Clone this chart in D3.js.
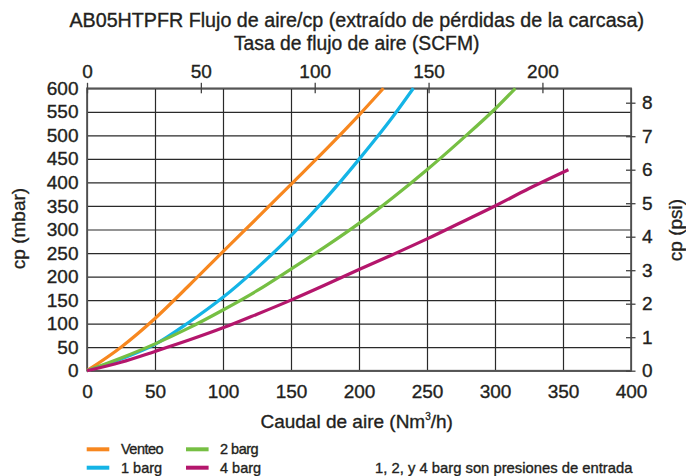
<!DOCTYPE html>
<html lang="es">
<head>
  <meta charset="UTF-8">
  <title>AB05HTPFR Flujo de aire/cp</title>
  <script src="https://d3js.org/d3.v7.min.js"></script>
  <style>
    body { margin: 0; background: #fff; }
    svg { font-family: "Liberation Sans", Arial, sans-serif; }
    svg text { fill: #231f20; stroke: #231f20; stroke-width: 0.35px; }
    .axis .domain { stroke: none; }
    .axis text { font-size: 19px; }
    .gridlines line { stroke: #2a2a2a; stroke-width: 1.2; }
    .gridlines .domain { stroke: none; }
  </style>
</head>
<body>
  <svg id="chart" width="686" height="476"></svg>

  <script>
    // flow in Nm3/h, pressure drop in mbar
    const ventFlow = [0, 25, 50, 75, 100, 125, 150, 175, 200, 218];
    const ventDp   = [0, 50, 111, 181, 253, 324, 396, 468, 543, 600];
    const bar1Flow = [0, 25, 50, 75, 100, 125, 150, 175, 200, 225, 240];
    const bar1Dp   = [0, 25, 56, 103, 156, 218, 287, 364, 449, 540, 600];
    const bar2Flow = [0, 25, 50, 75, 100, 125, 150, 175, 200, 225, 250, 275, 300, 315];
    const bar2Dp   = [0, 27, 57, 91, 129, 170, 216, 263, 313, 368, 427, 490, 556, 600];
    const bar4Flow = [0, 25, 50, 75, 100, 125, 150, 175, 200, 225, 250, 275, 300, 325, 354];
    const bar4Dp   = [0, 18, 41, 65, 91, 120, 150, 182, 215, 247, 280, 315, 350, 387, 427];

    const seriesNames  = ["Venteo", "1 barg", "2 barg", "4 barg"];
    const seriesColors = ["#f7871f", "#14b4e6", "#76bf43", "#b4166c"];

    const flowTicks = [0, 50, 100, 150, 200, 250, 300, 350, 400];
    const dpTicks   = [0, 50, 100, 150, 200, 250, 300, 350, 400, 450, 500, 550, 600];
    const scfmTicks = [0, 50, 100, 150, 200];
    const psiTicks  = [0, 1, 2, 3, 4, 5, 6, 7, 8];
    const scfmMax = 238.9;   // 400 Nm3/h on the top scale
    const psiMax = 8.43;     // 600 mbar on the right scale

    const svg = d3.select("#chart");
    const margins = { top: 88.3, right: 55, bottom: 105.3, left: 87 };
    const width = +svg.attr("width");
    const height = +svg.attr("height");

    const xScale = d3.scaleLinear().domain([0, 400]).range([margins.left, width - margins.right]);
    const yScale = d3.scaleLinear().domain([0, 600]).range([height - margins.bottom, margins.top]);
    const xTop = d3.scaleLinear().domain([0, scfmMax]).range(xScale.range());
    const yPsi = d3.scaleLinear().domain([0, psiMax]).range(yScale.range());

    const x0 = xScale(0), x1 = xScale(400), y0 = yScale(0), y1 = yScale(600);

    // titles
    svg.append("text")
      .attr("x", 356.7).attr("y", 20)
      .attr("text-anchor", "middle").attr("dominant-baseline", "central")
      .attr("font-size", "19.7px")
      .text("AB05HTPFR Flujo de aire/cp (extraído de pérdidas de la carcasa)");
    svg.append("text")
      .attr("x", 356.7).attr("y", 43)
      .attr("text-anchor", "middle").attr("dominant-baseline", "central")
      .attr("font-size", "19.3px")
      .text("Tasa de flujo de aire (SCFM)");

    // grid
    svg.append("g").attr("class", "gridlines")
      .attr("transform", `translate(0,${y0})`)
      .call(d3.axisBottom(xScale).tickValues(flowTicks).tickSize(-(y0 - y1)).tickFormat(""));
    svg.append("g").attr("class", "gridlines")
      .attr("transform", `translate(${x0},0)`)
      .call(d3.axisLeft(yScale).tickValues(dpTicks).tickSize(-(x1 - x0)).tickFormat(""));

    svg.append("rect")
      .attr("x", x0).attr("y", y1)
      .attr("width", x1 - x0).attr("height", y0 - y1)
      .attr("fill", "none").attr("stroke", "#555").attr("stroke-width", 1.7);

    // axes
    svg.append("g").attr("class", "axis")
      .attr("transform", `translate(${x0},0)`)
      .call(d3.axisLeft(yScale).tickValues(dpTicks).tickSize(0).tickPadding(8.5));

    svg.append("g").attr("class", "axis")
      .attr("transform", `translate(0,${y0})`)
      .call(d3.axisBottom(xScale).tickValues(flowTicks).tickSize(0).tickPadding(14));

    const topAxis = svg.append("g").attr("class", "axis")
      .attr("transform", `translate(0,${y1 + 5})`)
      .call(d3.axisTop(xTop).tickValues(scfmTicks).tickSize(10.5).tickPadding(5));
    topAxis.selectAll(".tick line").attr("stroke", "#444").attr("stroke-width", 1.3);

    const rightAxis = svg.append("g").attr("class", "axis")
      .attr("transform", `translate(${x1 - 5},0)`)
      .call(d3.axisRight(yPsi).tickValues(psiTicks).tickSize(9.5).tickPadding(6.5));
    rightAxis.selectAll(".tick line").attr("stroke", "#444").attr("stroke-width", 1.3);

    // axis labels
    svg.append("text")
      .attr("x", 356.7).attr("y", 421)
      .attr("text-anchor", "middle").attr("dominant-baseline", "central")
      .attr("font-size", "19px")
      .html('Caudal de aire (Nm<tspan font-size="10px" dy="-5.5">3</tspan><tspan dy="5.5">/h)</tspan>');
    svg.append("text")
      .attr("transform", "translate(18.5,228.5) rotate(-90)")
      .attr("text-anchor", "middle").attr("dominant-baseline", "central")
      .attr("font-size", "19px")
      .text("cp (mbar)");
    svg.append("text")
      .attr("transform", "translate(675.5,230) rotate(-90)")
      .attr("text-anchor", "middle").attr("dominant-baseline", "central")
      .attr("font-size", "19px")
      .text("cp (psi)");

    // curves
    const series = [
      { flow: ventFlow, dp: ventDp },
      { flow: bar1Flow, dp: bar1Dp },
      { flow: bar2Flow, dp: bar2Dp },
      { flow: bar4Flow, dp: bar4Dp }
    ];
    const line = d3.line()
      .x(d => xScale(d[0]))
      .y(d => yScale(d[1]))
      .curve(d3.curveMonotoneX);

    svg.append("g").selectAll("path.curve").data(series)
      .join("path").attr("class", "curve")
      .attr("fill", "none")
      .attr("stroke", (d, i) => seriesColors[i])
      .attr("stroke-width", 3.2)
      .attr("stroke-linecap", "butt")
      .attr("d", d => line(d.flow.map((f, j) => [f, d.dp[j]])));

    // legend
    const legendX = [86.7, 186];
    const legendY = [449.3, 467.7];
    const legendPos = [[0, 0], [0, 1], [1, 0], [1, 1]];
    const legend = svg.append("g").selectAll("g").data(seriesNames)
      .join("g")
      .attr("transform", (d, i) => `translate(${legendX[legendPos[i][0]]},${legendY[legendPos[i][1]]})`);
    legend.append("line")
      .attr("x1", 0).attr("x2", 22.6)
      .attr("stroke", (d, i) => seriesColors[i])
      .attr("stroke-width", 4);
    legend.append("text")
      .attr("x", (d, i) => legendPos[i][0] === 0 ? 34.3 : 34)
      .attr("dominant-baseline", "central")
      .attr("font-size", "14.5px")
      .attr("letter-spacing", (d, i) => (i === 0 || i === 2) ? "-0.5px" : "0px")
      .text(d => d);

    svg.append("text")
      .attr("x", 375).attr("y", 468.3)
      .attr("dominant-baseline", "central")
      .attr("font-size", "14.8px")
      .text("1, 2, y 4 barg son presiones de entrada");
  </script>
</body>
</html>
